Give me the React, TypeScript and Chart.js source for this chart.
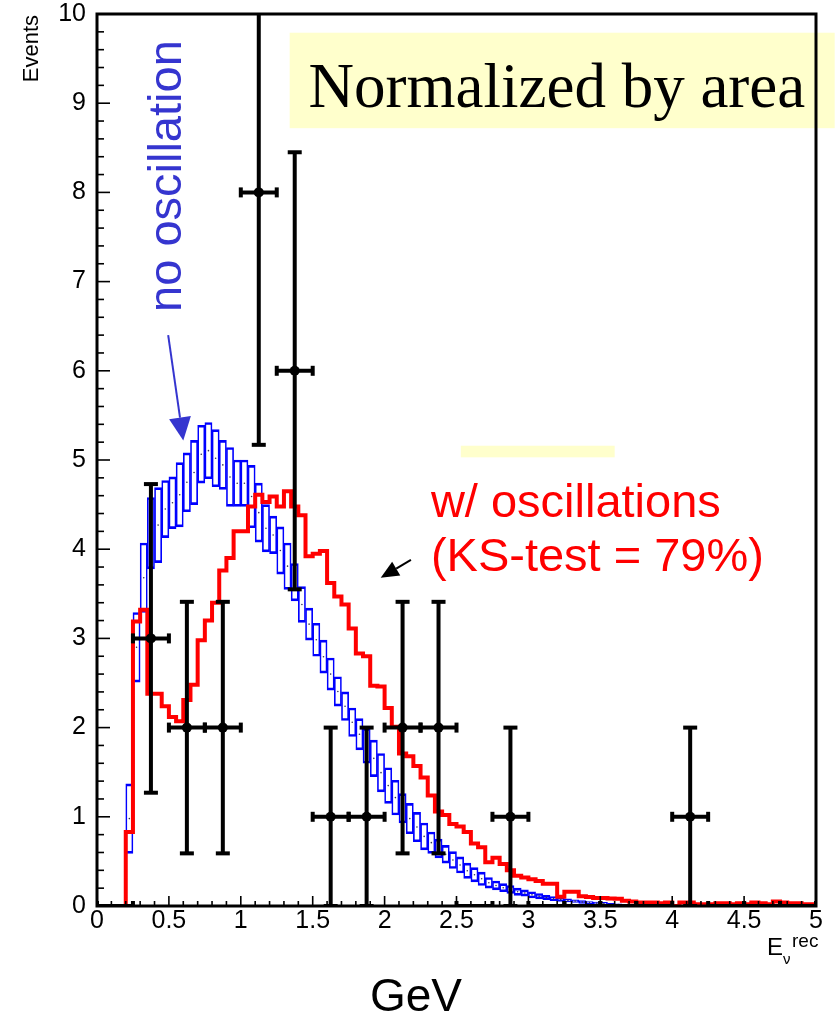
import React, { useEffect, useRef } from "react";
import { Chart, registerables } from "chart.js";

Chart.register(...registerables);

const SANS = "'Liberation Sans', Arial, Helvetica, sans-serif";
const SERIF = "'Liberation Serif', 'Times New Roman', serif";

// Fine binning of the expected spectra (GeV)
const HIST_START = 0.2;
const HIST_WIDTH = 0.05;

// Expected spectrum without oscillation: lower / upper edge of each MC error box
const noOscLow = [
  0.59, 2.51, 3.29, 3.78, 3.85, 4.13, 4.23, 4.25, 4.42, 4.5,
  4.74, 4.79, 4.7, 4.67, 4.48, 4.48, 4.48, 4.24, 4.08, 3.97,
  3.95, 3.72, 3.55, 3.42, 3.18, 2.98, 2.8, 2.61, 2.42, 2.24,
  2.08, 1.9, 1.75, 1.6, 1.45, 1.28, 1.15, 1.02, 0.93, 0.81,
  0.72, 0.63, 0.59, 0.54, 0.48, 0.42, 0.37, 0.31, 0.27, 0.23,
  0.2, 0.18, 0.16, 0.14, 0.12, 0.11, 0.09, 0.08, 0.07, 0.06,
  0.05, 0.045, 0.04, 0.03, 0.025, 0.02, 0.015, 0.01, 0.01, 0.005,
  0.0,
];
const noOscHigh = [
  1.37, 3.29, 4.07, 4.58, 4.69, 4.77, 4.81, 4.97, 5.08, 5.22,
  5.39, 5.42, 5.34, 5.22, 5.14, 5.0, 5.0, 4.94, 4.74, 4.5,
  4.37, 4.25, 4.07, 3.84, 3.58, 3.34, 3.17, 2.98, 2.78, 2.57,
  2.4, 2.22, 2.1, 1.99, 1.86, 1.71, 1.55, 1.41, 1.26, 1.15,
  1.05, 0.93, 0.83, 0.75, 0.68, 0.61, 0.55, 0.48, 0.43, 0.38,
  0.32, 0.28, 0.25, 0.23, 0.2, 0.18, 0.16, 0.14, 0.12, 0.105,
  0.09, 0.08, 0.07, 0.06, 0.05, 0.045, 0.04, 0.03, 0.025, 0.02,
  0.015,
];

// Expected spectrum with oscillation
const withOsc = [
  0.83, 3.19, 3.32, 2.38, 2.38, 2.24, 2.12, 2.07, 2.31, 2.48,
  2.98, 3.2, 3.4, 3.76, 3.9, 4.2, 4.2, 4.48, 4.61, 4.53,
  4.59, 4.48, 4.65, 4.48, 4.38, 3.92, 3.95, 3.98, 3.62, 3.47,
  3.38, 3.11, 2.83, 2.8, 2.47, 2.46, 2.22, 2.01, 1.71, 1.68,
  1.57, 1.44, 1.24, 1.06, 1.02, 0.92, 0.89, 0.83, 0.7, 0.66,
  0.49, 0.54, 0.47, 0.4, 0.34, 0.32, 0.3, 0.28, 0.25, 0.25,
  0.105, 0.16, 0.16, 0.11, 0.1, 0.09, 0.09, 0.085, 0.08, 0.06,
  0.05, 0.04, 0.04, 0.04, 0.03, 0.04, 0.0, 0.04, 0.04, 0.02,
  0.02, 0.02, 0.03, 0.03, 0.02, 0.03, 0.02, 0.04, 0.03, 0.02,
  0.05, 0.04, 0.03, 0.03, 0.02, 0.02,
];

// Observed events in 0.25 GeV bins from 0 to 5 GeV, with their errors
const DATA_WIDTH = 0.25;
const observed = [0, 3, 2, 2, 8, 6, 1, 1, 2, 2, 0, 1, 0, 0, 0, 0, 1, 0, 0, 0];
const observedErr = [0, 1.73, 1.41, 1.41, 2.83, 2.45, 1, 1, 1.41, 1.41, 0, 1, 0, 0, 0, 0, 1, 0, 0, 0];

const xTicks = [0, 0.5, 1, 1.5, 2, 2.5, 3, 3.5, 4, 4.5, 5];
const xTickLabels = ["0", "0.5", "1", "1.5", "2", "2.5", "3", "3.5", "4", "4.5", "5"];
const yTicks = [0, 1, 2, 3, 4, 5, 6, 7, 8, 9, 10];
const yTickLabels = ["0", "1", "2", "3", "4", "5", "6", "7", "8", "9", "10"];

// Pale yellow highlight panels, in axis units
const HIGHLIGHTS = [
  { x0: 1.34, x1: 5.13, y0: 8.72, y1: 9.79 },
  { x0: 2.53, x1: 3.6, y0: 5.03, y1: 5.16 },
];

const BLUE_TEXT = "#3535CF";

function drawArrow(
  ctx: CanvasRenderingContext2D,
  x0: number, y0: number, x1: number, y1: number,
  color: string, width: number, headLen: number, headHalf: number
) {
  const ang = Math.atan2(y1 - y0, x1 - x0);
  const bx = x1 - headLen * Math.cos(ang);
  const by = y1 - headLen * Math.sin(ang);
  ctx.strokeStyle = color;
  ctx.lineWidth = width;
  ctx.beginPath();
  ctx.moveTo(x0, y0);
  ctx.lineTo(bx, by);
  ctx.stroke();
  ctx.fillStyle = color;
  ctx.beginPath();
  ctx.moveTo(x1, y1);
  ctx.lineTo(bx + headHalf * Math.sin(ang), by - headHalf * Math.cos(ang));
  ctx.lineTo(bx - headHalf * Math.sin(ang), by + headHalf * Math.cos(ang));
  ctx.closePath();
  ctx.fill();
}

const overlay = {
  id: "overlay",
  beforeDatasetsDraw(chart: any) {
    const { ctx, scales } = chart;
    const { x, y } = scales;
    ctx.save();
    ctx.fillStyle = "#FFFFCC";
    for (const b of HIGHLIGHTS) {
      const l = x.getPixelForValue(b.x0);
      const r = x.getPixelForValue(b.x1);
      const t = y.getPixelForValue(b.y1);
      const bt = y.getPixelForValue(b.y0);
      ctx.fillRect(l, t, r - l, bt - t);
    }
    ctx.restore();
  },
  afterDatasetsDraw(chart: any) {
    const { ctx, chartArea, scales } = chart;
    const { x, y } = scales;
    const { left, right, top, bottom } = chartArea;

    // observed data error bars
    ctx.save();
    ctx.beginPath();
    ctx.rect(left, top, right - left, bottom - top);
    ctx.clip();
    ctx.strokeStyle = "#000";
    ctx.lineCap = "butt";
    ctx.lineWidth = 4;
    const seg = (a: number, b: number, c: number, d: number) => {
      ctx.beginPath();
      ctx.moveTo(a, b);
      ctx.lineTo(c, d);
      ctx.stroke();
    };
    observed.forEach((n, i) => {
      const lo = i * DATA_WIDTH;
      const xl = x.getPixelForValue(lo);
      const xr = x.getPixelForValue(lo + DATA_WIDTH);
      const xc = x.getPixelForValue(lo + DATA_WIDTH / 2);
      const yc = y.getPixelForValue(n);
      seg(xl, yc, xr, yc);
      seg(xl, yc - 5, xl, yc + 5);
      seg(xr, yc - 5, xr, yc + 5);
      const e = observedErr[i];
      if (e > 0) {
        const yt = y.getPixelForValue(n + e);
        const yb = y.getPixelForValue(n - e);
        seg(xc, yt, xc, yb);
        seg(xc - 7, yt, xc + 7, yt);
        seg(xc - 7, yb, xc + 7, yb);
      }
    });
    ctx.restore();

    // inward tick marks
    ctx.save();
    ctx.strokeStyle = "#000";
    ctx.lineWidth = 1.6;
    for (let k = 0; k <= 50; k++) {
      const py = y.getPixelForValue(k * 0.2);
      const len = k % 5 === 0 ? 13 : 7;
      ctx.beginPath();
      ctx.moveTo(left, py);
      ctx.lineTo(left + len, py);
      ctx.stroke();
    }
    for (let k = 0; k <= 50; k++) {
      const pxv = x.getPixelForValue(k * 0.1);
      const len = k % 5 === 0 ? 10 : 5;
      ctx.beginPath();
      ctx.moveTo(pxv, bottom);
      ctx.lineTo(pxv, bottom - len);
      ctx.stroke();
    }
    ctx.restore();

    // annotations
    ctx.save();
    ctx.textAlign = "left";
    ctx.textBaseline = "alphabetic";
    ctx.fillStyle = "#000";
    ctx.font = `63px ${SERIF}`;
    ctx.fillText("Normalized by area", x.getPixelForValue(1.471), y.getPixelForValue(8.957));

    ctx.fillStyle = BLUE_TEXT;
    ctx.font = `47px ${SANS}`;
    ctx.save();
    ctx.translate(x.getPixelForValue(0.586), y.getPixelForValue(6.66));
    ctx.rotate(-Math.PI / 2);
    ctx.fillText("no oscillation", 0, 0);
    ctx.restore();
    drawArrow(
      ctx,
      x.getPixelForValue(0.495), y.getPixelForValue(6.4),
      x.getPixelForValue(0.6), y.getPixelForValue(5.22),
      BLUE_TEXT, 2, 23, 11
    );

    ctx.fillStyle = "#FF0000";
    ctx.font = `47px ${SANS}`;
    ctx.fillText("w/ oscillations", x.getPixelForValue(2.322), y.getPixelForValue(4.36));
    ctx.fillText("(KS-test = 79%)", x.getPixelForValue(2.322), y.getPixelForValue(3.756));
    drawArrow(
      ctx,
      x.getPixelForValue(2.183), y.getPixelForValue(3.88),
      x.getPixelForValue(1.973), y.getPixelForValue(3.68),
      "#000", 2, 18, 8
    );
    ctx.restore();

    // frame
    ctx.save();
    ctx.strokeStyle = "#000";
    ctx.lineWidth = 3;
    ctx.strokeRect(left, top, right - left, bottom - top);
    ctx.restore();
  },
  afterDraw(chart: any) {
    const { ctx, chartArea } = chart;
    const { left, top, bottom } = chartArea;
    ctx.save();
    ctx.fillStyle = "#000";
    ctx.textBaseline = "alphabetic";

    // y axis title
    ctx.font = `22px ${SANS}`;
    ctx.save();
    ctx.translate(left - 59, top + 1);
    ctx.rotate(-Math.PI / 2);
    ctx.textAlign = "right";
    ctx.fillText("Events", 0, 0);
    ctx.restore();

    // x axis title E_nu^rec
    ctx.textAlign = "left";
    ctx.font = `24px ${SANS}`;
    ctx.fillText("E", 767, bottom + 49);
    ctx.font = `15px ${SANS}`;
    ctx.fillText("\u03bd", 783, bottom + 58);
    ctx.font = `19px ${SANS}`;
    ctx.fillText("rec", 792, bottom + 41);

    // unit label
    ctx.textAlign = "center";
    ctx.font = `46px ${SANS}`;
    ctx.fillText("GeV", 416, bottom + 105);
    ctx.restore();
  },
};

export default function App() {
  const canvasRef = useRef<HTMLCanvasElement | null>(null);

  useEffect(() => {
    const canvas = canvasRef.current;
    if (!canvas) return;

    const boxes = noOscLow.map((lo, i) => ({
      x: HIST_START + (i + 0.5) * HIST_WIDTH,
      y: [lo, noOscHigh[i]],
    }));
    const boxCentres = noOscLow.map((lo, i) => ({
      x: HIST_START + (i + 0.5) * HIST_WIDTH,
      y: (lo + noOscHigh[i]) / 2,
    }));
    const steps = [
      { x: HIST_START, y: 0 },
      ...withOsc.map((v, i) => ({ x: HIST_START + i * HIST_WIDTH, y: v })),
      { x: HIST_START + withOsc.length * HIST_WIDTH, y: withOsc[withOsc.length - 1] },
    ];
    const points = observed
      .map((n, i) => ({ x: (i + 0.5) * DATA_WIDTH, y: n }))
      .filter((p) => p.y > 0);

    const chart = new Chart(canvas, {
      type: "scatter",
      data: {
        datasets: [
          {
            type: "bar",
            label: "no oscillation",
            data: boxes as any,
            backgroundColor: "rgba(0,0,0,0)",
            borderColor: "#0000FF",
            borderWidth: { top: 2, bottom: 2, left: 1, right: 1 } as any,
            borderSkipped: false,
            barPercentage: 1,
            categoryPercentage: 1,
            order: 4,
          } as any,
          {
            type: "scatter",
            label: "no oscillation centre",
            data: boxCentres,
            pointRadius: 0.8,
            pointBorderWidth: 0,
            pointBackgroundColor: "#333355",
            order: 3,
          },
          {
            type: "line",
            label: "w/ oscillations",
            data: steps,
            stepped: "before",
            borderColor: "#FF0000",
            borderWidth: 4,
            pointRadius: 0,
            fill: false,
            borderCapStyle: "butt",
            borderJoinStyle: "miter",
            order: 2,
          } as any,
          {
            type: "scatter",
            label: "data",
            data: points,
            pointRadius: 5,
            pointBorderWidth: 0,
            pointBackgroundColor: "#000",
            order: 1,
          },
        ],
      },
      options: {
        animation: false,
        responsive: false,
        maintainAspectRatio: false,
        devicePixelRatio: 1,
        events: [],
        layout: { padding: { left: 0, top: 14, right: 19, bottom: 0 } },
        plugins: {
          legend: { display: false },
          tooltip: { enabled: false },
        },
        scales: {
          x: {
            type: "linear",
            min: 0,
            max: 5,
            offset: false,
            grid: { display: false, drawTicks: false },
            border: { display: false },
            afterBuildTicks: (s: any) => {
              s.ticks = xTicks.map((value) => ({ value }));
            },
            afterFit: (s: any) => {
              s.height = 110;
            },
            ticks: {
              autoSkip: false,
              maxRotation: 0,
              minRotation: 0,
              padding: 0,
              color: "#000",
              font: { size: 25, family: SANS },
              callback: (_v: any, i: number) => xTickLabels[i],
            },
          },
          y: {
            type: "linear",
            min: 0,
            max: 10,
            grid: { display: false, drawTicks: false },
            border: { display: false },
            afterBuildTicks: (s: any) => {
              s.ticks = yTicks.map((value) => ({ value }));
            },
            afterFit: (s: any) => {
              s.width = 97;
            },
            ticks: {
              autoSkip: false,
              padding: 11,
              color: "#000",
              // single-line labels: a small line height keeps the layout from
              // reserving extra room above the plot
              font: { size: 25, family: SANS, lineHeight: 0.1 },
              callback: (_v: any, i: number) => yTickLabels[i],
            },
          },
        },
      } as any,
      plugins: [overlay],
    });

    return () => {
      chart.destroy();
    };
  }, []);

  return (
    <div
      style={{
        position: "absolute",
        left: 0,
        top: 0,
        width: 835,
        height: 1016,
        background: "#fff",
      }}
    >
      <canvas ref={canvasRef} width={835} height={1016} />
    </div>
  );
}
